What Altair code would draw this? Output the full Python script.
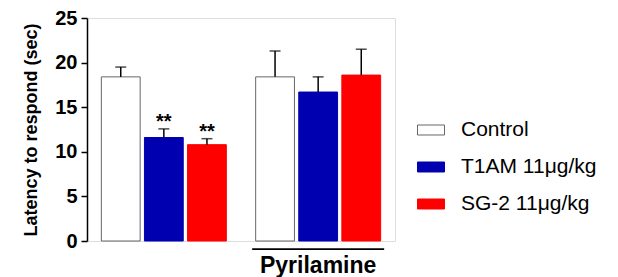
import altair as alt
import pandas as pd

groups = ["Vehicle", "Pyrilamine"]
treatments = ["Control", "T1AM 11μg/kg", "SG-2 11μg/kg"]
means_vehicle = [18.4, 11.6, 10.8]
sem_vehicle = [1.1, 0.97, 0.67]
stars_vehicle = ["", "**", "**"]
means_pyr = [18.4, 16.7, 18.6]
sem_pyr = [2.9, 1.7, 2.9]
stars_pyr = ["", "", ""]
fill_colors = ["#ffffff", "#0000b0", "#ff0000"]
stroke_colors = ["#666666", "#0000b0", "#ff0000"]

rows = []
for g, means, sems, stars in [(groups[0], means_vehicle, sem_vehicle, stars_vehicle),
                              (groups[1], means_pyr, sem_pyr, stars_pyr)]:
    for t, m, s, st in zip(treatments, means, sems, stars):
        rows.append({"group": g, "treatment": t, "mean": m, "upper": m + s, "star": st})
df = pd.DataFrame(rows)
line_df = pd.DataFrame({"group": ["Pyrilamine"]})

FONT = "Liberation Sans"

x_enc = alt.X(
    "group:N", sort=groups,
    scale=alt.Scale(paddingInner=0.19, paddingOuter=0.093),
    axis=alt.Axis(title=None, domain=False, ticks=False, labelAngle=0,
                  labelExpr="datum.value == 'Pyrilamine' ? 'Pyrilamine' : ''",
                  labelFontSize=23, labelFontWeight="bold", labelColor="black",
                  labelPadding=13, labelFont=FONT),
)
xo_enc = alt.XOffset("treatment:N", sort=treatments,
                     scale=alt.Scale(paddingInner=0.1, paddingOuter=0))
y_scale = alt.Scale(domain=[0, 25], nice=False, zero=True)
y_axis = alt.Axis(values=[0, 5, 10, 15, 20, 25], grid=False, domainColor="black",
                  domainWidth=1.5, tickColor="black", tickWidth=1.5, tickSize=6,
                  labelFontSize=20, labelFontWeight="bold", labelColor="black",
                  labelPadding=4, labelFont=FONT,
                  title="Latency to respond (sec)", titleFontSize=18,
                  titleFontWeight="bold", titleColor="black", titlePadding=14,
                  titleFont=FONT)

legend_kw = dict(title=None, orient="none", legendX=330, legendY=98,
                 symbolType="M-1,-0.37H1V0.37H-1Z", symbolSize=729,
                 symbolStrokeWidth=1, labelFontSize=21, labelFont=FONT,
                 labelColor="black", rowPadding=13, labelOffset=16)

base = alt.Chart(df).encode(x=x_enc, xOffset=xo_enc)

bars = base.mark_bar(strokeWidth=1).encode(
    y=alt.Y("mean:Q", scale=y_scale, axis=y_axis),
    color=alt.Color("treatment:N", sort=treatments,
                    scale=alt.Scale(domain=treatments, range=fill_colors),
                    legend=alt.Legend(**legend_kw)),
    stroke=alt.Stroke("treatment:N", sort=treatments,
                      scale=alt.Scale(domain=treatments, range=stroke_colors),
                      legend=alt.Legend(**legend_kw)),
)

stems = base.mark_rule(color="black", strokeWidth=1.5).encode(
    y=alt.Y("mean:Q"), y2="upper:Q")
caps = base.mark_tick(color="black", thickness=1.5, size=11).encode(y=alt.Y("upper:Q"))
stars = base.mark_text(fontSize=20, fontWeight="bold", baseline="alphabetic", dy=-1,
                       color="black", font=FONT).encode(y=alt.Y("upper:Q"), text="star:N")

pyr_line = alt.Chart(line_df).mark_bar(width=132, color="black").encode(
    x=alt.X("group:N", sort=groups),
    y=alt.datum(-1.0), y2=alt.datum(-0.8))

chart = alt.layer(bars, stems, caps, stars, pyr_line).properties(
    width=308, height=223,
    padding={"left": 14, "top": 0, "right": 0, "bottom": 0},
).configure_view(stroke=None).configure(font=FONT)

chart.save("out.html", embed_options={"renderer": "svg", "actions": False})
